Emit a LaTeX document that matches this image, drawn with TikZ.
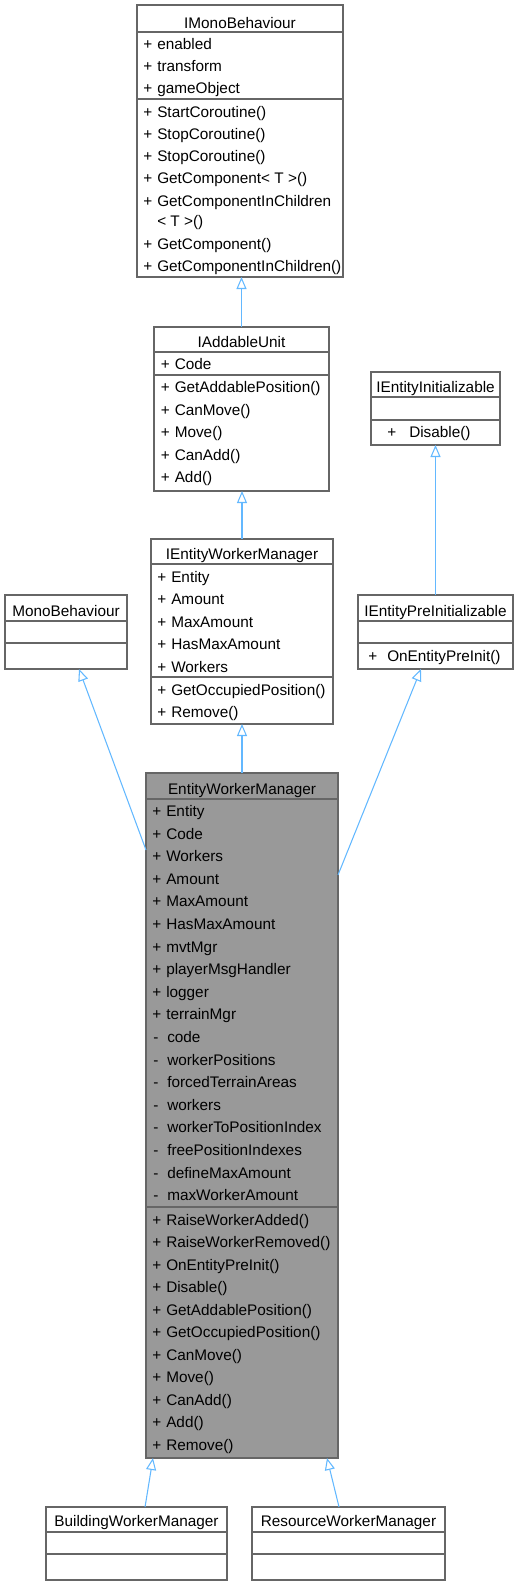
\documentclass[tikz,border=0pt]{standalone}
\usepackage{fontspec}
\setmainfont{Liberation Sans}
\usepackage{xcolor}
\usetikzlibrary{arrows.meta}

\definecolor{boxgray}{HTML}{666666}
\definecolor{ewmfill}{HTML}{999999}
\definecolor{inhblue}{HTML}{63B8FF}

\newcommand{\mem}[2]{\makebox[10.5pt][l]{#1}#2}

\tikzset{
  cls/.style={draw=boxgray, line width=0.9pt, fill=white, inner sep=0pt, outer sep=0pt},
  sep/.style={draw=boxgray, line width=0.9pt},
  ttl/.style={anchor=base, inner sep=0pt, font=\fontsize{11.5}{13}\selectfont},
  row/.style={anchor=base west, inner sep=0pt, font=\fontsize{11.5}{13}\selectfont},
  inh/.style={draw=inhblue, line width=0.8pt, -{Triangle[open, length=9pt, width=7.5pt]}}
}

\begin{document}
\begin{tikzpicture}[x=0.75pt, y=-0.75pt]
    \useasboundingbox (0,0) rectangle (518,1585);

    % class boxes
    \node[cls, minimum width=154.5pt, minimum height=204pt] (imono) at (240,141) {};
    \node[cls, minimum width=131.25pt, minimum height=123pt] (iadd) at (241.5,409) {};
    \node[cls, minimum width=96.75pt, minimum height=54.75pt] (iinit) at (435.5,408.5) {};
    \node[cls, minimum width=136.5pt, minimum height=138.75pt] (iewm) at (242,631.5) {};
    \node[cls, minimum width=91.5pt, minimum height=55.5pt] (mono) at (66,632) {};
    \node[cls, minimum width=116.25pt, minimum height=55.5pt] (ipre) at (435.5,632) {};
    \node[cls, fill=ewmfill, minimum width=144pt, minimum height=513.75pt] (ewm) at (242,1115.5) {};
    \node[cls, minimum width=135.75pt, minimum height=54.75pt] (bwm) at (136.5,1543.5) {};
    \node[cls, minimum width=144.75pt, minimum height=54.75pt] (rwm) at (348.5,1543.5) {};

    % compartments
    \draw[sep] (137,32) -- (343,32);
    \draw[sep] (137,99) -- (343,99);
    \draw[sep] (154,352) -- (329,352);
    \draw[sep] (154,375) -- (329,375);
    \draw[sep] (371,397) -- (500,397);
    \draw[sep] (371,420) -- (500,420);
    \draw[sep] (151,564) -- (333,564);
    \draw[sep] (151,677) -- (333,677);
    \draw[sep] (5,621) -- (127,621);
    \draw[sep] (5,643) -- (127,643);
    \draw[sep] (358,621) -- (513,621);
    \draw[sep] (358,643) -- (513,643);
    \draw[sep] (146,799) -- (338,799);
    \draw[sep] (146,1207) -- (338,1207);
    \draw[sep] (46,1532) -- (227,1532);
    \draw[sep] (46,1554) -- (227,1554);
    \draw[sep] (252,1532) -- (445,1532);
    \draw[sep] (252,1554) -- (445,1554);

    % inheritance
    \draw[inh] (iadd.north) -- (iadd.north |- imono.south);
    \draw[inh] (iewm.north) -- (iewm.north |- iadd.south);
    \draw[inh] (ipre.north) -- (iinit.south);
    \draw[inh] (ewm.north) -- (iewm.south);
    \draw[inh] ([yshift=-57.75pt]ewm.north west) -- ([xshift=9.75pt]mono.south);
    \draw[inh] ([yshift=-76.5pt]ewm.north east) -- ([xshift=-10.9pt]ipre.south);
    \draw[inh] ([xshift=6.4pt]bwm.north) -- ([xshift=-66.75pt]ewm.south);
    \draw[inh] ([xshift=-7.1pt]rwm.north) -- ([xshift=63.75pt]ewm.south);

    % IMonoBehaviour
    \node[ttl] (imono-t) at (240,28) {IMonoBehaviour};
    \node[row] (imono-a1) at (143,49) {\mem{+}{enabled}};
    \node[row] (imono-a2) at (143,71) {\mem{+}{transform}};
    \node[row] (imono-a3) at (143,93) {\mem{+}{gameObject}};
    \node[row] (imono-m1) at (143,117) {\mem{+}{StartCoroutine()}};
    \node[row] (imono-m2) at (143,139) {\mem{+}{StopCoroutine()}};
    \node[row] (imono-m3) at (143,161) {\mem{+}{StopCoroutine()}};
    \node[row] (imono-m4) at (143,183) {\mem{+}{GetComponent< T >()}};
    \node[row] (imono-m5) at (143,206) {\mem{+}{GetComponentInChildren}};
    \node[row] (imono-m5b) at (157,226) {< T >()};
    \node[row] (imono-m6) at (143,249) {\mem{+}{GetComponent()}};
    \node[row] (imono-m7) at (143,271) {\mem{+}{GetComponentInChildren()}};

    % IAddableUnit
    \node[ttl] (iadd-t) at (241.5,347) {IAddableUnit};
    \node[row] (iadd-a1) at (160.5,369.5) {\mem{+}{Code}};
    \node[row] (iadd-m1) at (160.5,392.5) {\mem{+}{GetAddablePosition()}};
    \node[row] (iadd-m2) at (160.5,415) {\mem{+}{CanMove()}};
    \node[row] (iadd-m3) at (160.5,437.5) {\mem{+}{Move()}};
    \node[row] (iadd-m4) at (160.5,460) {\mem{+}{CanAdd()}};
    \node[row] (iadd-m5) at (160.5,482.5) {\mem{+}{Add()}};

    % IEntityInitializable
    \node[ttl] (iinit-t) at (435.5,392.5) {IEntityInitializable};
    \node[row] (iinit-m1) at (387,437.5) {\makebox[16.5pt][l]{+}Disable()};

    % IEntityWorkerManager
    \node[ttl] (iewm-t) at (242,559) {IEntityWorkerManager};
    \node[row] (iewm-a1) at (157,582) {\mem{+}{Entity}};
    \node[row] (iewm-a2) at (157,604.5) {\mem{+}{Amount}};
    \node[row] (iewm-a3) at (157,627) {\mem{+}{MaxAmount}};
    \node[row] (iewm-a4) at (157,649.5) {\mem{+}{HasMaxAmount}};
    \node[row] (iewm-a5) at (157,672) {\mem{+}{Workers}};
    \node[row] (iewm-m1) at (157,695) {\mem{+}{GetOccupiedPosition()}};
    \node[row] (iewm-m2) at (157,717.5) {\mem{+}{Remove()}};

    % MonoBehaviour
    \node[ttl] (mono-t) at (66,616) {MonoBehaviour};

    % IEntityPreInitializable
    \node[ttl] (ipre-t) at (435.5,616) {IEntityPreInitializable};
    \node[row] (ipre-m1) at (368,661) {\makebox[14.25pt][l]{+}OnEntityPreInit()};

    % EntityWorkerManager
    \node[ttl] (ewm-t) at (242,794) {EntityWorkerManager};
    \node[row] (ewm-a1) at (152,816.5) {\mem{+}{Entity}};
    \node[row] (ewm-a2) at (152,839.1) {\mem{+}{Code}};
    \node[row] (ewm-a3) at (152,861.7) {\mem{+}{Workers}};
    \node[row] (ewm-a4) at (152,884.3) {\mem{+}{Amount}};
    \node[row] (ewm-a5) at (152,906.9) {\mem{+}{MaxAmount}};
    \node[row] (ewm-a6) at (152,929.5) {\mem{+}{HasMaxAmount}};
    \node[row] (ewm-a7) at (152,952.1) {\mem{+}{mvtMgr}};
    \node[row] (ewm-a8) at (152,974.7) {\mem{+}{playerMsgHandler}};
    \node[row] (ewm-a9) at (152,997.3) {\mem{+}{logger}};
    \node[row] (ewm-a10) at (152,1019.9) {\mem{+}{terrainMgr}};
    \node[row] (ewm-a11) at (153,1042.5) {\mem{-}{code}};
    \node[row] (ewm-a12) at (153,1065.1) {\mem{-}{workerPositions}};
    \node[row] (ewm-a13) at (153,1087.7) {\mem{-}{forcedTerrainAreas}};
    \node[row] (ewm-a14) at (153,1110.3) {\mem{-}{workers}};
    \node[row] (ewm-a15) at (153,1132.9) {\mem{-}{workerToPositionIndex}};
    \node[row] (ewm-a16) at (153,1155.5) {\mem{-}{freePositionIndexes}};
    \node[row] (ewm-a17) at (153,1178.1) {\mem{-}{defineMaxAmount}};
    \node[row] (ewm-a18) at (153,1200.7) {\mem{-}{maxWorkerAmount}};
    \node[row] (ewm-m1) at (152,1225) {\mem{+}{RaiseWorkerAdded()}};
    \node[row] (ewm-m2) at (152,1247.5) {\mem{+}{RaiseWorkerRemoved()}};
    \node[row] (ewm-m3) at (152,1270) {\mem{+}{OnEntityPreInit()}};
    \node[row] (ewm-m4) at (152,1292.5) {\mem{+}{Disable()}};
    \node[row] (ewm-m5) at (152,1315) {\mem{+}{GetAddablePosition()}};
    \node[row] (ewm-m6) at (152,1337.5) {\mem{+}{GetOccupiedPosition()}};
    \node[row] (ewm-m7) at (152,1360) {\mem{+}{CanMove()}};
    \node[row] (ewm-m8) at (152,1382.5) {\mem{+}{Move()}};
    \node[row] (ewm-m9) at (152,1405) {\mem{+}{CanAdd()}};
    \node[row] (ewm-m10) at (152,1427.5) {\mem{+}{Add()}};
    \node[row] (ewm-m11) at (152,1450) {\mem{+}{Remove()}};

    % subclasses
    \node[ttl] (bwm-t) at (136.5,1526.5) {BuildingWorkerManager};
    \node[ttl] (rwm-t) at (348.5,1526.5) {ResourceWorkerManager};
\end{tikzpicture}
\end{document}
